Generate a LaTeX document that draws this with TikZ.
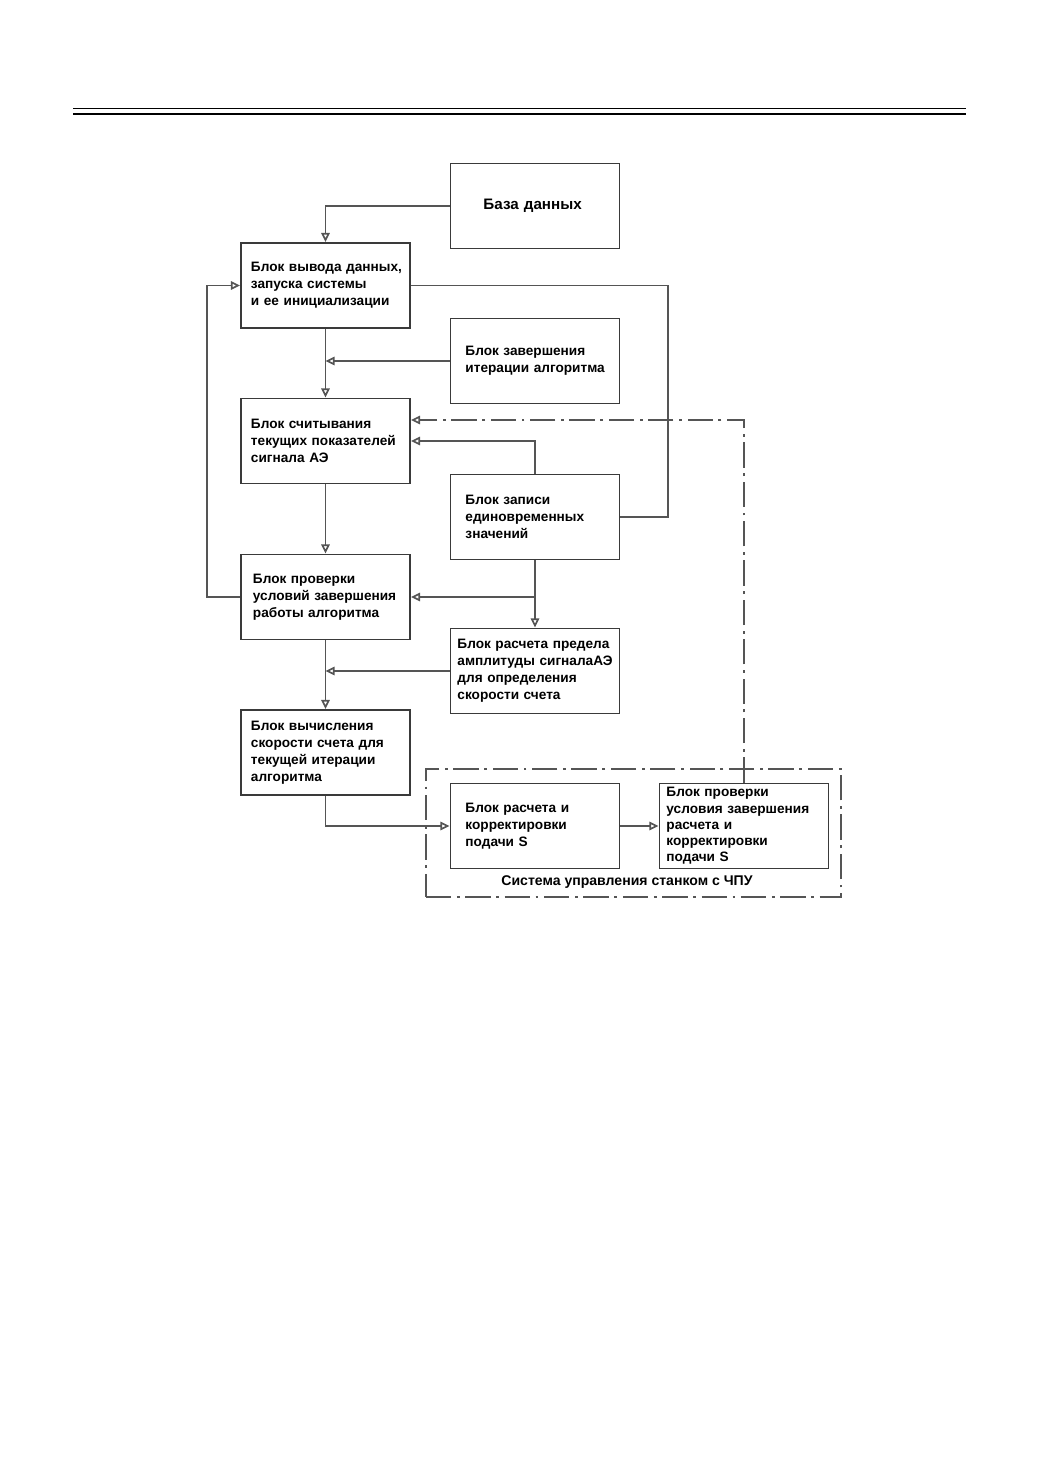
\documentclass[tikz,border=0pt]{standalone}
\usepackage{fontspec}
\setmainfont{Liberation Sans}
\usetikzlibrary{arrows.meta}
\definecolor{boxgray}{HTML}{3A3A3A}
\definecolor{linegray}{HTML}{555555}
\tikzset{
  block/.style={draw=boxgray, line width=1.3pt, rectangle,
    minimum width=4.225cm, minimum height=2.125cm,
    text width=4.225cm, inner xsep=0pt, inner ysep=0pt, align=left,
    font=\fontsize{9.7}{12}\selectfont\bfseries,
    execute at begin node={\leftskip=#1}},
  block/.default=0.25cm,
  wire/.style={draw=linegray, line width=1.2pt},
  link/.style={wire, -{Triangle[open,length=6.5pt,width=6pt]}},
  ctrl/.style={draw=linegray, line width=1.2pt, dash pattern=on 18pt off 4pt on 2pt off 4pt},
}
\begin{document}
\begin{tikzpicture}[x=0.025cm, y=-0.025cm]
    \useasboundingbox (0,0) rectangle (1040,1471);
    % линии колонтитула
    \draw[line width=0.7pt] (73,108) -- (966,108);
    \draw[line width=1.8pt] (73,114) -- (966,114);
    % блоки
    \node[block=0.825cm, font=\fontsize{10.8}{13}\selectfont\bfseries] (db) at (535,206) {База данных};
    \node[block] (b1) at (325.5,285.5) {Блок вывода данных,\\запуска системы\\и ее инициализации};
    \node[block=0.375cm] (b2) at (535,361) {Блок завершения\\итерации алгоритма};
    \node[block] (b3) at (325.5,441) {Блок считывания\\текущих показателей\\сигнала АЭ};
    \node[block=0.375cm] (b4) at (535,517) {Блок записи\\единовременных\\значений};
    \node[block=0.3cm] (b5) at (325.5,597) {Блок проверки\\условий завершения\\работы алгоритма};
    \node[block=0.175cm] (b6) at (535,671) {Блок расчета предела\\амплитуды сигналаАЭ\\для определения\\скорости счета};
    \node[block] (b7) at (325.5,752.5) {Блок вычисления\\скорости счета для\\текущей итерации\\алгоритма};
    % система ЧПУ
    \node[ctrl, minimum width=10.375cm, minimum height=3.2cm] (cnc) at (633.5,833) {};
    \node[block=0.375cm] (b8) at (535,826) {Блок расчета и\\корректировки\\подачи S};
    \node[block=0.175cm, font=\fontsize{9.7}{11.6}\selectfont\bfseries] (b9) at (744,826) {Блок проверки\\условия завершения\\расчета и\\корректировки\\подачи S};
    \node[font=\fontsize{10}{12}\selectfont\bfseries] (cnctitle) at (627,882) {Система управления станком с ЧПУ};
    % точки поворота
    \coordinate (rbus) at (668,0);
    \coordinate (lbus) at (207,0);
    \coordinate (fb) at (744,420);
    % связи
    \draw[link] (db.west) -| (b1.north);
    \draw[link] (b1.south) -- (b3.north);
    \draw[link] (b2.west) -- (b2.west -| b1.south);
    \draw[wire] (b1.east) -- (b1.east -| rbus) |- (b4.east);
    \draw[link, ctrl] (b9.north) -- (fb) -- (fb -| b3.east);
    \draw[link] (b4.north) |- (b3.east);
    \draw[link] (b3.south) -- (b5.north);
    \draw[link] (b4.south) -- (b6.north);
    \draw[link] (b4.south |- b5.east) -- (b5.east);
    \draw[link] (b5.west) -- (b5.west -| lbus) |- (b1.west);
    \draw[link] (b5.south) -- (b7.north);
    \draw[link] (b6.west) -- (b6.west -| b5.south);
    \draw[link] (b7.south) |- (b8.west);
    \draw[link] (b8.east) -- (b9.west);
\end{tikzpicture}
\end{document}
